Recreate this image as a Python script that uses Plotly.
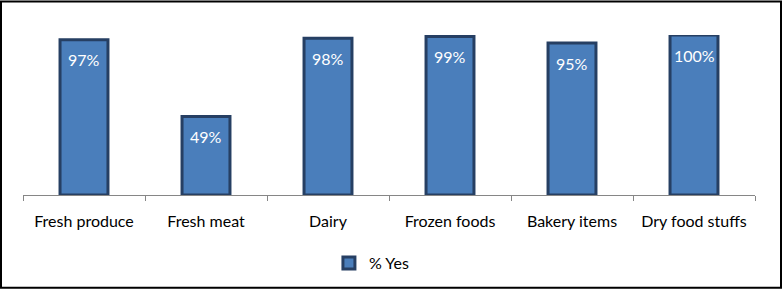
import plotly.graph_objects as go

categories = ["Fresh produce", "Fresh meat", "Dairy", "Frozen foods", "Bakery items", "Dry food stuffs"]
values = [97, 49, 98, 99, 95, 100]
labels = ["97%", "49%", "98%", "99%", "95%", "100%"]
series_name = "% Yes"

W, H = 782, 292
L, R, T, B = 23, 27, 35, 95
pw = W - L - R
ph = H - T - B
FONT = "Lato"

fig = go.Figure()
fig.add_trace(go.Bar(
    x=categories, y=values, name=series_name,
    marker=dict(color="#4A7EBB", line=dict(color="#263F63", width=3)),
))

for c, v, t in zip(categories, values, labels):
    fig.add_annotation(x=c, y=v, text=t, showarrow=False, yanchor="middle", yshift=-20,
                       font=dict(color="white", size=16, family=FONT))

fig.update_layout(
    width=W, height=H,
    margin=dict(l=L, r=R, t=T, b=B),
    paper_bgcolor="white", plot_bgcolor="white",
    bargap=0.607,
    showlegend=True,
    legend=dict(orientation="h", x=0.476, xanchor="center", y=-(266 - 197) / ph, yanchor="middle",
                font=dict(size=16, family=FONT, color="black")),
    font=dict(family=FONT, size=16, color="black"),
    xaxis=dict(showline=True, linecolor="#868686", linewidth=1, ticks="outside", tickson="boundaries",
               ticklen=5, tickcolor="#868686", tickfont=dict(size=16, family=FONT, color="black"),
               ticklabelstandoff=12, showgrid=False, fixedrange=True),
    yaxis=dict(range=[0, 100], visible=False, showgrid=False, fixedrange=True),
)

fig.add_shape(type="rect", xref="paper", yref="paper",
              x0=-(L - 1) / pw, x1=1 + (R - 1) / pw,
              y0=-(B - 1) / ph, y1=1 + (T - 1) / ph,
              line=dict(color="black", width=2), fillcolor="rgba(0,0,0,0)", layer="above")

fig.write_html("out.html")
